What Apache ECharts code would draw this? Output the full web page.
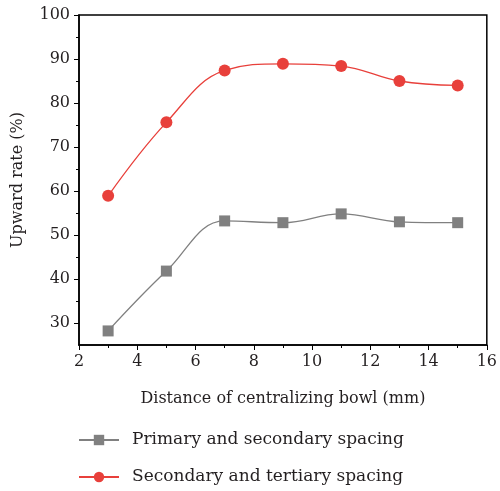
<!DOCTYPE html>
<html>
<head>
<meta charset="utf-8">
<script src="https://cdn.jsdelivr.net/npm/echarts@6/dist/echarts.min.js"></script>
<style>
  html, body { margin: 0; padding: 0; background: #fff; }
  #chart { width: 500px; height: 491px; }
</style>
</head>
<body>
<div id="chart"></div>
<script>
// distance of centralizing bowl (mm)
const distances = [3, 5, 7, 9, 11, 13, 15];
const primarySecondary = [28.2, 41.8, 53.2, 52.8, 54.8, 53.0, 52.8];
const secondaryTertiary = [58.9, 75.6, 87.4, 88.9, 88.4, 85.0, 84.0];
const yMajorTicks = [30, 40, 50, 60, 70, 80, 90, 100];
const yMinorTicks = [35, 45, 55, 65, 75, 85, 95];
const seriesNames = ['Primary and secondary spacing', 'Secondary and tertiary spacing'];

const FONT = 'DejaVu Serif';
const GRAY = '#808080';
const RED = '#e8403b';
const TEXT = '#231f20';

const chart = echarts.init(document.getElementById('chart'));

const legendText = {
  fontFamily: FONT,
  fontSize: 17,
  color: TEXT,
  lineHeight: 20,
  padding: [0, 0, 0, 8]
};

const option = {
  animation: false,
  grid: {
    left: 79, right: 10, top: 15, bottom: 146,
    show: true, borderColor: '#000', borderWidth: 1.5
  },
  legend: [
    {
      data: [seriesNames[0]], orient: 'vertical', left: 73, top: 425,
      itemWidth: 40, itemHeight: 13, textStyle: legendText
    },
    {
      data: [seriesNames[1]], orient: 'vertical', left: 73, top: 462,
      itemWidth: 40, itemHeight: 13, textStyle: legendText
    }
  ],
  xAxis: {
    type: 'value', min: 2, max: 16, interval: 2,
    name: 'Distance of centralizing bowl (mm)',
    nameLocation: 'middle', nameGap: 46,
    nameTextStyle: { fontFamily: FONT, fontSize: 16, color: TEXT },
    axisLine: { lineStyle: { color: '#000', width: 1.5 } },
    axisTick: { show: true, inside: false, length: 5, lineStyle: { color: '#000' } },
    minorTick: { show: true, splitNumber: 2, length: 3, lineStyle: { color: '#000' } },
    axisLabel: { fontFamily: FONT, fontSize: 16, color: TEXT, margin: 9 },
    splitLine: { show: false }
  },
  yAxis: [
    {
      type: 'value', min: 25, max: 100, interval: 5,
      name: 'Upward rate (%)',
      nameLocation: 'middle', nameGap: 53,
      nameTextStyle: { fontFamily: FONT, fontSize: 16, color: TEXT },
      axisLine: { show: true, lineStyle: { color: '#000', width: 1.5 } },
      axisTick: { show: true, inside: false, length: 5, customValues: yMajorTicks, lineStyle: { color: '#000' } },
      axisLabel: { fontFamily: FONT, fontSize: 16, color: TEXT, margin: 9, customValues: yMajorTicks },
      splitLine: { show: false }
    },
    {
      type: 'value', min: 25, max: 100, interval: 5, position: 'left',
      axisLine: { show: false },
      axisTick: { show: true, inside: false, length: 3, customValues: yMinorTicks, lineStyle: { color: '#000' } },
      axisLabel: { show: false },
      splitLine: { show: false }
    }
  ],
  series: [
    {
      name: seriesNames[0], type: 'line', smooth: 0.4,
      data: distances.map((d, i) => [d, primarySecondary[i]]),
      symbol: 'rect', symbolSize: 11,
      itemStyle: { color: GRAY },
      lineStyle: { color: GRAY, width: 1.3 }
    },
    {
      name: seriesNames[1], type: 'line', smooth: 0.4,
      data: distances.map((d, i) => [d, secondaryTertiary[i]]),
      symbol: 'circle', symbolSize: 12,
      itemStyle: { color: RED },
      lineStyle: { color: RED, width: 1.3 }
    }
  ]
};

chart.setOption(option);
</script>
</body>
</html>
